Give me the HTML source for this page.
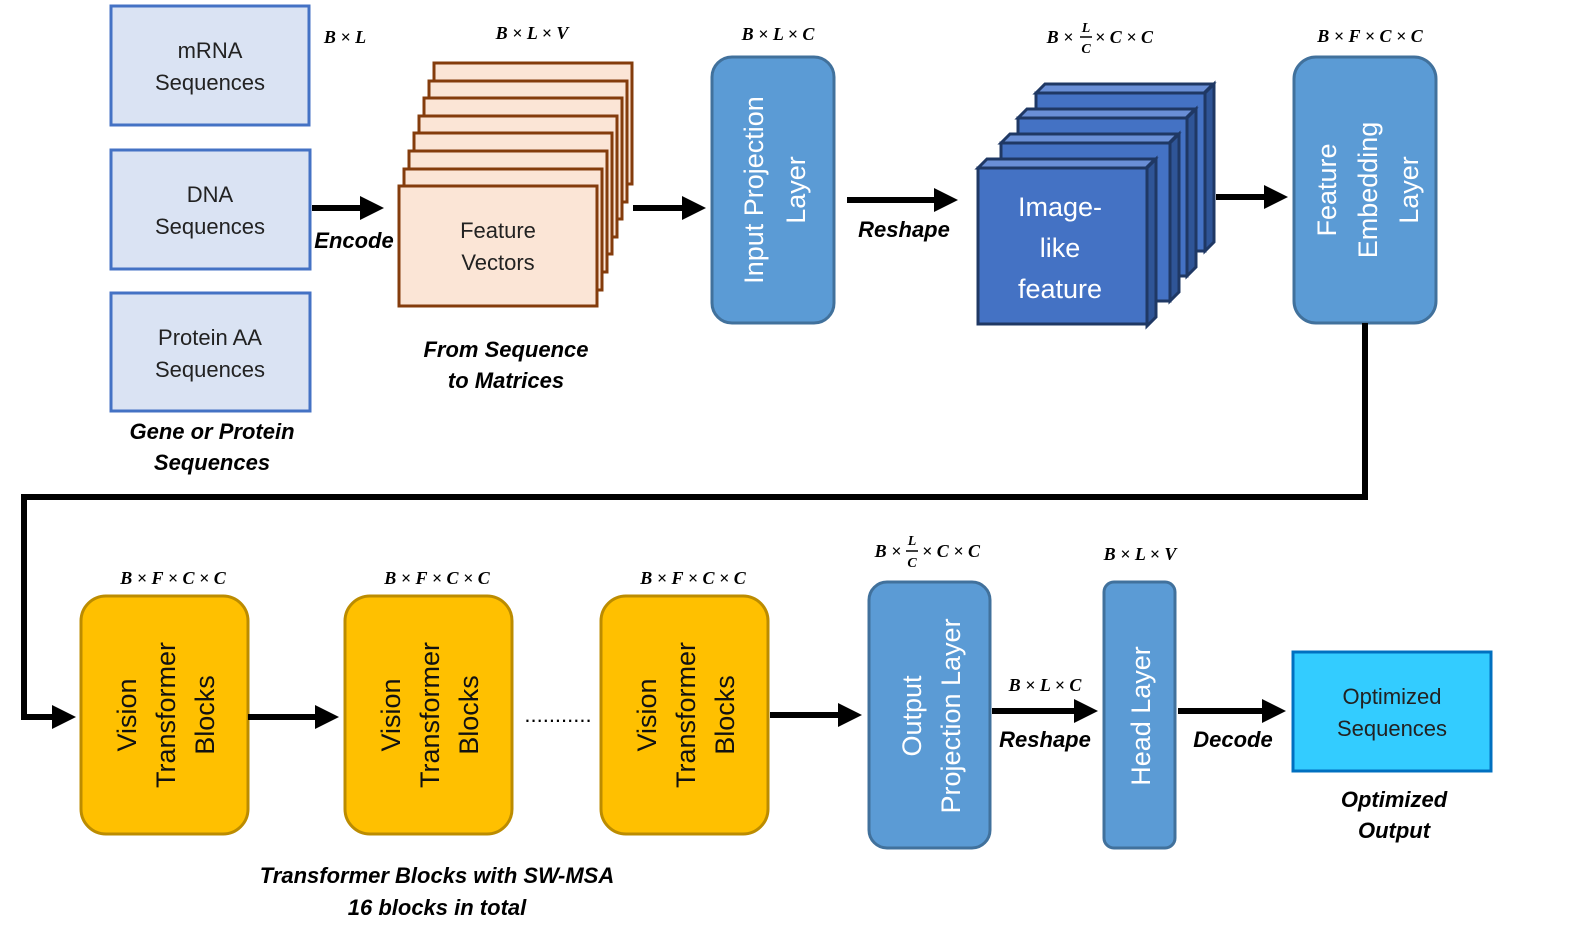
<!DOCTYPE html>
<html><head><meta charset="utf-8"><style>
body{margin:0;background:#fff}
.l{font-weight:bold;font-style:italic;font-size:22px}
.b{font-size:22px;fill:#222}
.w{font-size:27px;fill:#fff}
</style></head><body>
<svg width="1578" height="941" viewBox="0 0 1578 941" xmlns="http://www.w3.org/2000/svg" font-family="Liberation Sans, sans-serif">
<defs><marker id="a" markerWidth="4" markerHeight="4" refX="2" refY="2" orient="auto" markerUnits="strokeWidth"><path d="M0,0 L4,2 L0,4z" fill="#000"/></marker></defs>
<g fill="#dae3f3" stroke="#4472c4" stroke-width="3">
<rect x="111" y="6" width="198" height="119"/><rect x="111" y="150" width="199" height="119"/><rect x="111" y="293" width="199" height="118"/></g>
<g class="b" text-anchor="middle">
<text x="210" y="58">mRNA</text><text x="210" y="90">Sequences</text>
<text x="210" y="202">DNA</text><text x="210" y="234">Sequences</text>
<text x="210" y="345">Protein AA</text><text x="210" y="377">Sequences</text></g>
<g class="l" text-anchor="middle"><text x="212" y="439">Gene or Protein</text><text x="212" y="470">Sequences</text>
<text x="506" y="357">From Sequence</text><text x="506" y="388">to Matrices</text>
<text x="354" y="248">Encode</text><text x="904" y="237">Reshape</text>
<text x="437" y="883">Transformer Blocks with SW-MSA</text><text x="437" y="915">16 blocks in total</text>
<text x="1045" y="747">Reshape</text><text x="1233" y="747">Decode</text>
<text x="1394" y="807">Optimized</text><text x="1394" y="838">Output</text></g>
<g fill="#fbe5d6" stroke="#843c0c" stroke-width="3">
<rect x="434" y="63" width="198" height="121"/><rect x="429" y="81" width="198" height="121"/><rect x="424" y="98" width="198" height="121"/><rect x="419" y="116" width="198" height="121"/><rect x="414" y="133" width="198" height="121"/><rect x="409" y="151" width="198" height="121"/><rect x="404" y="169" width="198" height="121"/><rect x="399" y="186" width="198" height="120"/></g>
<text class="b" x="498" y="238" text-anchor="middle">Feature</text><text class="b" x="498" y="270" text-anchor="middle">Vectors</text>
<g stroke="#1f3864" stroke-width="3">
<g transform="translate(53,-75)"><path d="M983,168 l9,-9 h168 l-9,9z" fill="#6a8fd6"/><path d="M1152,168 l9,-9 v158 l-9,9z" fill="#2f5597"/><rect x="983" y="168" width="169" height="158" fill="#4472c4"/></g>
<g transform="translate(35,-50)"><path d="M983,168 l9,-9 h168 l-9,9z" fill="#6a8fd6"/><path d="M1152,168 l9,-9 v158 l-9,9z" fill="#2f5597"/><rect x="983" y="168" width="169" height="158" fill="#4472c4"/></g>
<g transform="translate(18,-25)"><path d="M983,168 l9,-9 h168 l-9,9z" fill="#6a8fd6"/><path d="M1152,168 l9,-9 v158 l-9,9z" fill="#2f5597"/><rect x="983" y="168" width="169" height="158" fill="#4472c4"/></g>
<path d="M978,168 l9,-9 h168 l-9,9z" fill="#6a8fd6"/><path d="M1147,168 l9,-9 v158 l-9,9z" fill="#2f5597"/><rect x="978" y="168" width="169" height="156" fill="#4472c4"/></g>
<g class="w" text-anchor="middle"><text x="1060" y="216">Image-</text><text x="1060" y="257">like</text><text x="1060" y="298">feature</text></g>
<g fill="#5b9bd5" stroke="#41719c" stroke-width="3">
<rect x="712" y="57" width="122" height="266" rx="20"/><rect x="1294" y="57" width="142" height="266" rx="22"/>
<rect x="869" y="582" width="121" height="266" rx="18"/><rect x="1104" y="582" width="71" height="266" rx="10"/></g>
<g class="w" text-anchor="middle">
<text transform="translate(763,190) rotate(-90)">Input Projection</text><text transform="translate(805,190) rotate(-90)">Layer</text>
<text transform="translate(1336,190) rotate(-90)">Feature</text><text transform="translate(1377,190) rotate(-90)">Embedding</text><text transform="translate(1418,190) rotate(-90)">Layer</text>
<text transform="translate(921,716) rotate(-90)">Output</text><text transform="translate(960,716) rotate(-90)">Projection Layer</text>
<text transform="translate(1150,716) rotate(-90)">Head Layer</text></g>
<g fill="#ffc000" stroke="#bc8c00" stroke-width="3">
<rect x="81" y="596" width="167" height="238" rx="25"/><rect x="345" y="596" width="167" height="238" rx="25"/><rect x="601" y="596" width="167" height="238" rx="25"/></g>
<g font-size="27" fill="#111" text-anchor="middle">
<text transform="translate(136,715) rotate(-90)">Vision</text><text transform="translate(175,715) rotate(-90)">Transformer</text><text transform="translate(214,715) rotate(-90)">Blocks</text>
<text transform="translate(400,715) rotate(-90)">Vision</text><text transform="translate(439,715) rotate(-90)">Transformer</text><text transform="translate(478,715) rotate(-90)">Blocks</text>
<text transform="translate(656,715) rotate(-90)">Vision</text><text transform="translate(695,715) rotate(-90)">Transformer</text><text transform="translate(734,715) rotate(-90)">Blocks</text></g>
<text x="558" y="722" font-size="22" text-anchor="middle">...........</text>
<rect x="1293" y="652" width="198" height="119" fill="#33ccff" stroke="#0070c0" stroke-width="3"/>
<text class="b" x="1392" y="704" text-anchor="middle">Optimized</text><text class="b" x="1392" y="736" text-anchor="middle">Sequences</text>
<g stroke="#000" stroke-width="6" fill="none" marker-end="url(#a)">
<path d="M312,208 H372"/><path d="M633,208 H694"/><path d="M847,200 H946"/><path d="M1216,197 H1276"/>
<path d="M1365,323 V497 H24 V717 H64"/><path d="M248,717 H327"/><path d="M770,715 H850"/><path d="M992,711 H1086"/><path d="M1178,711 H1274"/></g>
<g style="font-family:'Liberation Serif',serif;font-weight:bold;font-style:italic;font-size:18px" text-anchor="middle">
<text x="345" y="43">B × L</text><text x="532" y="39">B × L × V</text><text x="778" y="40">B × L × C</text>
<text x="1370" y="42">B × F × C × C</text>
<text x="173" y="584">B × F × C × C</text><text x="437" y="584">B × F × C × C</text><text x="693" y="584">B × F × C × C</text>
<text x="1045" y="691">B × L × C</text><text x="1140" y="560">B × L × V</text>
<text x="1060" y="43">B ×</text><text x="1086" y="32" style="font-size:14px">L</text><text x="1086" y="53" style="font-size:14px">C</text><text x="1124" y="43">× C × C</text>
<text x="888" y="557">B ×</text><text x="912" y="545" style="font-size:14px">L</text><text x="912" y="567" style="font-size:14px">C</text><text x="951" y="557">× C × C</text></g>
<path d="M1080,37 h12 M906,551 h12" stroke="#000" stroke-width="1.5"/>
</svg>
</body></html>
